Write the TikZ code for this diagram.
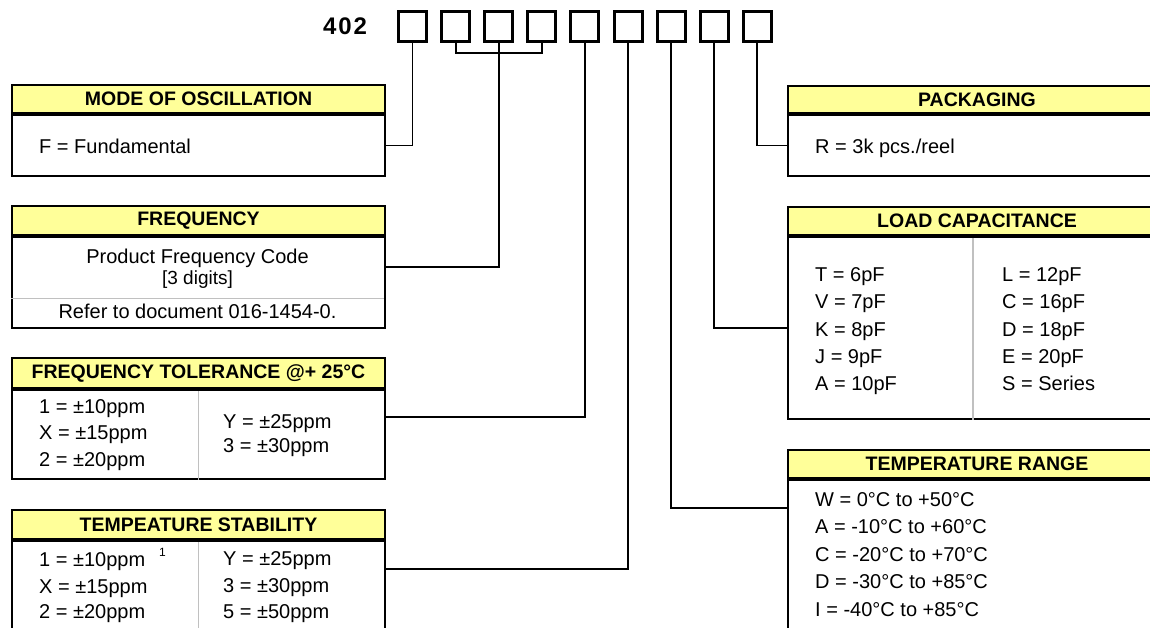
\documentclass[tikz,border=0pt]{standalone}
\usepackage{fontspec}
\setmainfont{Liberation Sans}
\usetikzlibrary{positioning}
\definecolor{headyellow}{RGB}{255,255,153}
\definecolor{rulegray}{RGB}{192,192,192}
\tikzset{
    codebox/.style={draw, line width=3pt, minimum width=28pt, minimum height=30pt, inner sep=0pt},
    headbox/.style={draw, line width=2pt, fill=headyellow, anchor=north west, inner sep=0pt, font=\fontsize{19.5}{19.5}\selectfont\bfseries},
    bodybox/.style={draw, line width=2pt, anchor=north west, inner sep=0pt},
    entry/.style={anchor=base west, inner sep=0pt, font=\fontsize{20}{20}\selectfont},
    link/.style={line width=1.8pt},
    headrule/.style={line width=3.5pt},
    colrule/.style={line width=1.5pt, draw=rulegray},
}
\begin{document}
\begin{tikzpicture}[x=1pt,y=-1pt]
                        \useasboundingbox (0,0) rectangle (1150,627);
                        \clip (0,0) rectangle (1150,627);

                        \node [anchor=base west, inner sep=0pt, font=\fontsize{24}{24}\selectfont\bfseries\addfontfeatures{LetterSpace=8}] (code) at (323,34) {402};
                        \node [codebox] (c1) at (412.5,26.5) {};
                        \node [codebox] (c2) at (455.6,26.5) {};
                        \node [codebox] (c3) at (498.7,26.5) {};
                        \node [codebox] (c4) at (541.8,26.5) {};
                        \node [codebox] (c5) at (584.9,26.5) {};
                        \node [codebox] (c6) at (628.0,26.5) {};
                        \node [codebox] (c7) at (671.1,26.5) {};
                        \node [codebox] (c8) at (714.2,26.5) {};
                        \node [codebox] (c9) at (757.3,26.5) {};

                        \node [headbox, minimum width=373pt, minimum height=28pt] (modeH) at (11,84) {MODE OF OSCILLATION};
                        \node [bodybox, minimum width=373pt, minimum height=61pt] (mode) at (modeH.south west) {};
                        \draw [headrule] (modeH.south west) -- (modeH.south east);
                        \node [entry] (modeF) at (39,153) {F = Fundamental};

                        \node [headbox, minimum width=373pt, minimum height=29pt] (freqH) at (11,205) {FREQUENCY};
                        \node [bodybox, minimum width=373pt, minimum height=91pt] (freqB) at (freqH.south west) {};
                        \node [anchor=north west, inner sep=0pt, minimum width=373pt, minimum height=62pt] (freq) at (freqH.south west) {};
                        \draw [colrule] (freq.south west) -- (freq.south east);
                        \draw [headrule] (freqH.south west) -- (freqH.south east);
                        \node [entry, anchor=base] (freqA) at (197.5,263) {Product Frequency Code};
                        \node [entry, anchor=base, font=\fontsize{19}{19}\selectfont] (freqB1) at (197.5,284) {[3 digits]};
                        \node [entry, anchor=base] (freqC) at (197.5,318) {Refer to document 016-1454-0.};

                        \node [headbox, minimum width=373pt, minimum height=30pt] (tolH) at (11,357) {FREQUENCY TOLERANCE @+ 25°C};
                        \node [bodybox, minimum width=373pt, minimum height=89pt] (tol) at (tolH.south west) {};
                        \draw [colrule] (tol.north) -- (tol.south);
                        \draw [headrule] (tolH.south west) -- (tolH.south east);
                        \node [entry] (tol1) at (39,413) {1 = ±10ppm};
                        \node [entry] (tolX) at (39,439) {X = ±15ppm};
                        \node [entry] (tol2) at (39,466) {2 = ±20ppm};
                        \node [entry] (tolY) at (223,428) {Y = ±25ppm};
                        \node [entry] (tol3) at (223,452) {3 = ±30ppm};

                        \node [headbox, minimum width=373pt, minimum height=29pt] (stabH) at (11,509) {TEMPEATURE STABILITY};
                        \node [bodybox, minimum width=373pt, minimum height=150pt] (stab) at (stabH.south west) {};
                        \draw [colrule] (stab.north) -- (stab.south);
                        \draw [headrule] (stabH.south west) -- (stabH.south east);
                        \node [entry] (stab1) at (39,566) {1 = ±10ppm};
                        \node [entry, font=\fontsize{12}{12}\selectfont] (stabNote) at (159,556) {1};
                        \node [entry] (stabX) at (39,593) {X = ±15ppm};
                        \node [entry] (stab2) at (39,618) {2 = ±20ppm};
                        \node [entry] (stabY) at (223,565) {Y = ±25ppm};
                        \node [entry] (stab3) at (223,592) {3 = ±30ppm};
                        \node [entry] (stab5) at (223,618) {5 = ±50ppm};

                        \node [headbox, minimum width=378pt, minimum height=27pt] (packH) at (787,85) {PACKAGING};
                        \node [bodybox, minimum width=378pt, minimum height=61pt] (pack) at (packH.south west) {};
                        \draw [headrule] (packH.south west) -- (packH.south east);
                        \node [entry] (packR) at (815,153) {R = 3k pcs./reel};

                        \node [headbox, minimum width=378pt, minimum height=28pt] (loadH) at (787,206) {LOAD CAPACITANCE};
                        \node [bodybox, minimum width=378pt, minimum height=182pt] (load) at (loadH.south west) {};
                        \coordinate (loadSep) at (973,234);
                        \draw [colrule] (loadSep) -- (loadSep |- load.south);
                        \draw [headrule] (loadH.south west) -- (loadH.south east);
                        \node [entry] (loadT) at (815,281) {T = 6pF};
                        \node [entry] (loadV) at (815,308) {V = 7pF};
                        \node [entry] (loadK) at (815,336) {K = 8pF};
                        \node [entry] (loadJ) at (815,363) {J = 9pF};
                        \node [entry] (loadA) at (815,390) {A = 10pF};
                        \node [entry] (loadL) at (1002,281) {L = 12pF};
                        \node [entry] (loadC) at (1002,308) {C = 16pF};
                        \node [entry] (loadD) at (1002,336) {D = 18pF};
                        \node [entry] (loadE) at (1002,363) {E = 20pF};
                        \node [entry] (loadS) at (1002,390) {S = Series};

                        \node [headbox, minimum width=378pt, minimum height=28pt] (rangeH) at (787,449) {TEMPERATURE RANGE};
                        \node [bodybox, minimum width=378pt, minimum height=150pt] (range) at (rangeH.south west) {};
                        \draw [headrule] (rangeH.south west) -- (rangeH.south east);
                        \node [entry] (rangeW) at (815,506) {W = 0°C to +50°C};
                        \node [entry] (rangeA) at (815,533) {A = -10°C to +60°C};
                        \node [entry] (rangeC) at (815,561) {C = -20°C to +70°C};
                        \node [entry] (rangeD) at (815,588) {D = -30°C to +85°C};
                        \node [entry] (rangeI) at (815,616) {I = -40°C to +85°C};

                        \coordinate (brk) at (498.7,53);
                        \coordinate (tolIn) at (384,417);
                        \coordinate (stabIn) at (384,569);
                        \coordinate (rangeIn) at (787,508);

                        \draw [link] (c1.south) |- (mode.east);
                        \draw [link] (c2.south) |- (brk) -| (c4.south);
                        \draw [link] (c3.south) |- (freq.east);
                        \draw [link] (c5.south) |- (tolIn);
                        \draw [link] (c6.south) |- (stabIn);
                        \draw [link] (c7.south) |- (rangeIn);
                        \draw [link] (c8.south) |- (load.west);
                        \draw [link] (c9.south) |- (pack.west);
\end{tikzpicture}
\end{document}
